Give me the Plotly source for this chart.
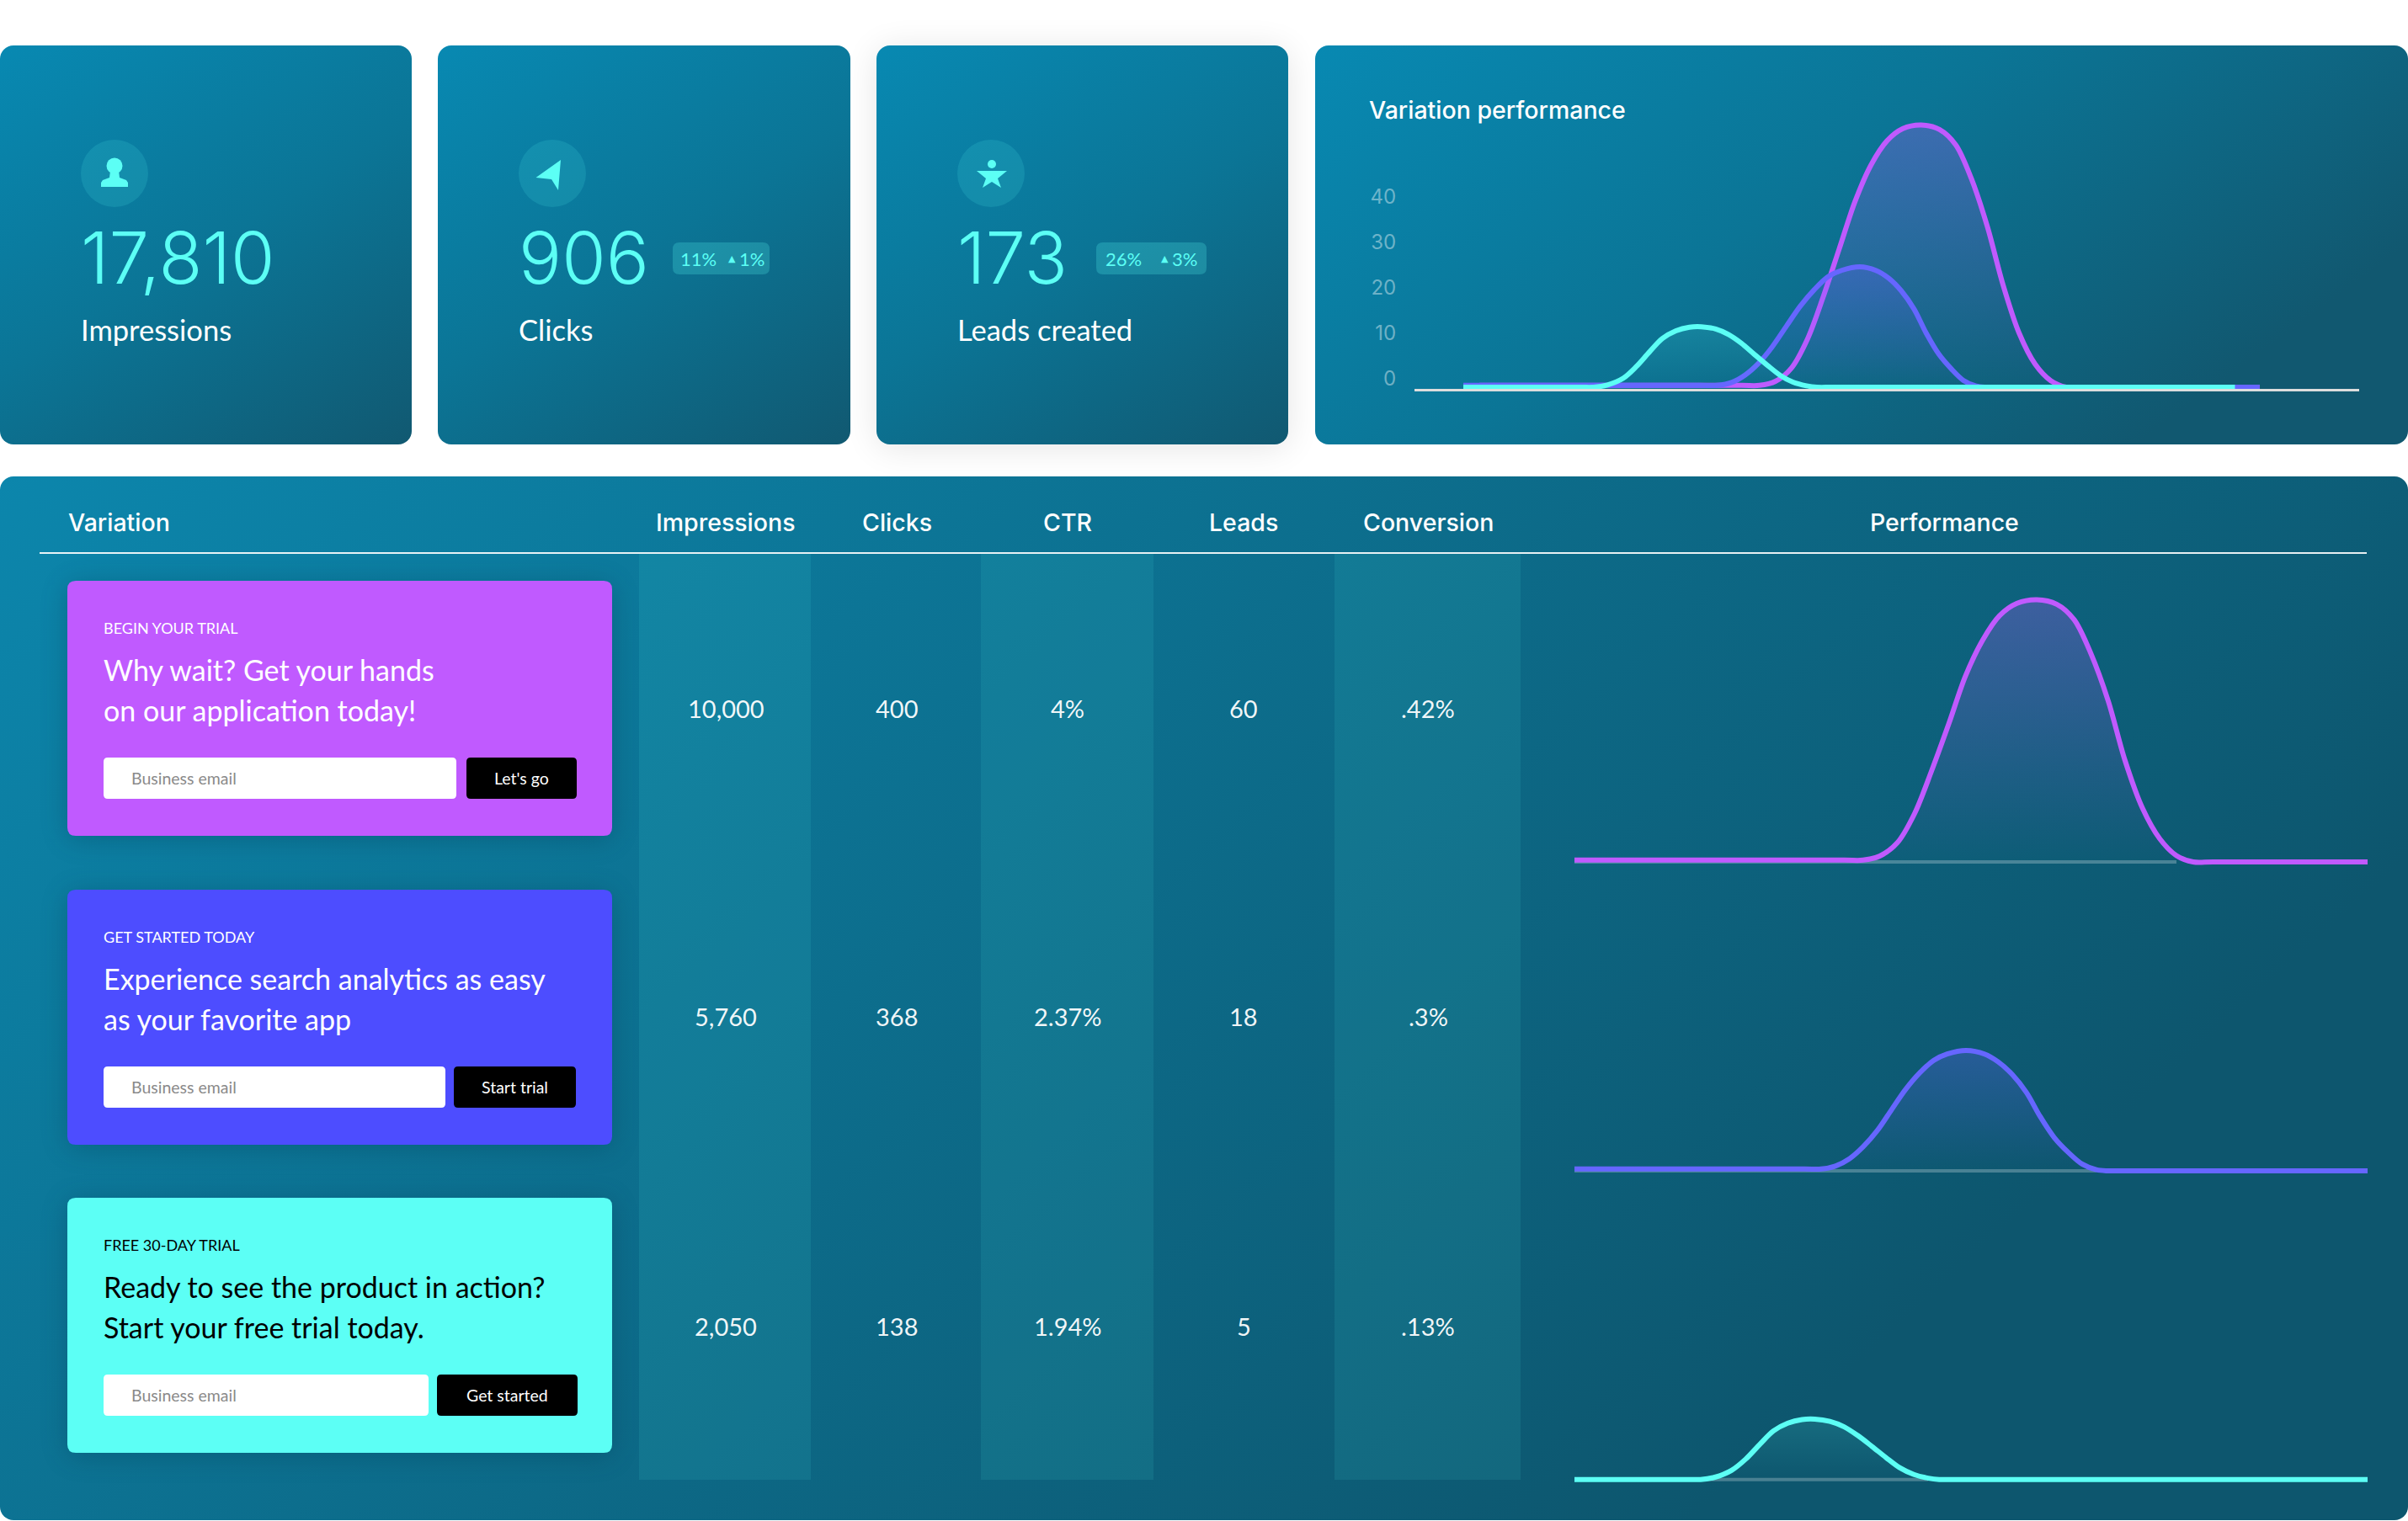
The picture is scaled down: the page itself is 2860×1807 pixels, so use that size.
import base64
import plotly.graph_objects as go

W, H = 2860, 1807

# ---------- data ----------
KPI_LABELS = ["Impressions", "Clicks", "Leads created"]
KPI_VALUES = ["17,810", "906", "173"]
KPI_SHARE = [None, "11%", "26%"]
KPI_DELTA = [None, "1%", "3%"]

TABLE_HEADERS = ["Variation", "Impressions", "Clicks", "CTR", "Leads", "Conversion", "Performance"]
IMPRESSIONS = ["10,000", "5,760", "2,050"]
CLICKS = ["400", "368", "138"]
CTR = ["4%", "2.37%", "1.94%"]
LEADS = ["60", "18", "5"]
CONVERSION = [".42%", ".3%", ".13%"]

KICKERS = ["BEGIN YOUR TRIAL", "GET STARTED TODAY", "FREE 30-DAY TRIAL"]
TITLES_1 = ["Why wait? Get your hands", "Experience search analytics as easy", "Ready to see the product in action?"]
TITLES_2 = ["on our application today!", "as your favorite app", "Start your free trial today."]
BUTTONS = ["Let's go", "Start trial", "Get started"]

Y_TICKS = [0, 10, 20, 30, 40]

PURPLE_VALUES = [0.4, 0.4, 0.4, 1.3, 4.2, 10.7, 19.9, 30.4, 40.9, 48.9, 54.2, 56.9, 57.7, 56.7, 53.3, 45.9, 35.4, 22.4, 11.9, 5.1, 1.4, 0, 0, 0]
PURPLE_ROW_X = [0, 34, 36.4, 38.5, 40.7, 42.9, 45, 47.2, 49.3, 51.5, 53.6, 55.8, 58.3, 60.8, 63, 65.1, 67.3, 69.4, 71.6, 73.8, 75.9, 78, 80.5, 100]
PURPLE_TOP_X = [2, 34.9, 37.2, 39.2, 41.2, 43.25, 45.2, 47.2, 49.2, 51.2, 53.2, 55.2, 57.5, 59.8, 61.85, 63.8, 65.8, 67.8, 69.8, 71.8, 73.8, 75.7, 78.2, 100]

BLUE_VALUES = [0.4, 0.4, 0.4, 1.05, 2.7, 5.3, 8.9, 13.5, 17.8, 21.5, 24.3, 25.7, 26.5, 25.7, 24, 21.2, 17.2, 12, 7.3, 4, 1.5, 0.25, 0, 0, 0]
BLUE_ROW_X = [0, 29, 31.1, 32.9, 34.7, 36.4, 38.2, 40, 41.7, 43.5, 45.3, 47, 49.4, 51.7, 53.4, 55.2, 57, 58.7, 60.5, 62.3, 64, 65.8, 67.2, 69.5, 100]
BLUE_TOP_X = [0, 29.7, 31.9, 33.7, 35.4, 37.1, 38.8, 40.6, 42.3, 44.1, 45.8, 47.5, 49.8, 51.8, 53.4, 55, 56.6, 58.1, 59.7, 61.3, 62.8, 64.4, 65.6, 67.7, 100]

CYAN_VALUES = [0, 0, 0, 0.5, 2, 4.5, 7.8, 10.7, 12.4, 13.2, 13.3, 12.8, 11.6, 9.7, 7.3, 4.8, 2.6, 1.1, 0.3, 0, 0, 0]
CYAN_ROW_X = [0, 14, 15.9, 17.7, 19.8, 21.6, 23.4, 25.1, 26.9, 28.7, 30.3, 32.2, 34, 35.7, 37.5, 39.3, 41, 42.8, 44.6, 46, 48, 100]
CYAN_TOP_X = [0, 14.5, 16.4, 18.1, 20.1, 21.7, 23.4, 25, 26.7, 28.4, 29.9, 31.7, 33.3, 34.9, 36.5, 38.2, 39.8, 41.4, 43.1, 44.4, 46.5, 96.9]

# ---------- palette / fonts ----------
CYAN = "#5CFFF5"
PURPLE = "#C05AFF"
BLUE_PANEL = "#4D4DFF"
BLUE_LINE = "#6666FF"
SANS = "Lato"
INTER = "Inter"


def fx(x):
    return x / W


def fy(y):
    return 1 - y / H


# ---------- background cards (gradients and soft shadows) ----------
def rect(x, y, w, h, r, fill, extra=""):
    return f'<rect x="{x}" y="{y}" width="{w}" height="{h}" rx="{r}" ry="{r}" fill="{fill}" {extra}/>'


svg = [f'<svg xmlns="http://www.w3.org/2000/svg" width="{W}" height="{H}" viewBox="0 0 {W} {H}">',
       '<defs>',
       '<linearGradient id="c" x1="0" y1="0" x2="0.75" y2="1.18">'
       '<stop offset="0" stop-color="#0889B2"/><stop offset="0.5" stop-color="#0B7596"/><stop offset="1" stop-color="#115870"/></linearGradient>',
       '<linearGradient id="w" x1="0" y1="0" x2="1" y2="0.5">'
       '<stop offset="0" stop-color="#0889B2"/><stop offset="0.5" stop-color="#0B7596"/><stop offset="1" stop-color="#115870"/></linearGradient>',
       '<linearGradient id="t" x1="0" y1="0" x2="0.96" y2="0.45">'
       '<stop offset="0" stop-color="#0C86AC"/><stop offset="1" stop-color="#0D566E"/></linearGradient>',
       '<filter id="b1" x="-30%" y="-30%" width="160%" height="160%"><feGaussianBlur stdDeviation="20"/></filter>',
       '<filter id="b2" x="-30%" y="-30%" width="160%" height="160%"><feGaussianBlur stdDeviation="16"/></filter>',
       '</defs>']
svg.append(rect(1041, 58, 489, 474, 16, "#000", 'opacity="0.10" filter="url(#b1)"'))
for x, w in [(0, 489), (520, 490), (1041, 489)]:
    svg.append(rect(x, 54, w, 474, 16, "url(#c)"))
svg.append(rect(1562, 54, 1298, 474, 16, "url(#w)"))
svg.append(rect(0, 566, W, 1240, 16, "url(#t)"))
for top in [690, 1057, 1423]:
    svg.append(rect(80, top + 4, 647, 303, 10, "#03364C", 'opacity="0.30" filter="url(#b2)"'))
svg.append('</svg>')
bg_uri = "data:image/svg+xml;base64," + base64.b64encode("".join(svg).encode()).decode()

shapes = []


def rrect(x0, y0, x1, y1, r, fill):
    d = (f"M{x0 + r},{y0} L{x1 - r},{y0} Q{x1},{y0} {x1},{y0 + r} L{x1},{y1 - r} Q{x1},{y1} {x1 - r},{y1} "
         f"L{x0 + r},{y1} Q{x0},{y1} {x0},{y1 - r} L{x0},{y0 + r} Q{x0},{y0} {x0 + r},{y0} Z")
    shapes.append(dict(type="path", xref="x", yref="y", path=d, fillcolor=fill, line=dict(width=0), layer="below"))


def poly(points, fill):
    d = "M" + " L".join(f"{a},{b}" for a, b in points) + " Z"
    shapes.append(dict(type="path", xref="x", yref="y", path=d, fillcolor=fill, line=dict(width=0), layer="below"))


def circle(cx, cy, r, fill):
    shapes.append(dict(type="circle", xref="x", yref="y", x0=cx - r, x1=cx + r, y0=cy - r, y1=cy + r,
                       fillcolor=fill, line=dict(width=0), layer="below"))


annotations = []


def note(x, y, text, size, color, family=SANS, weight=400, anchor="left"):
    annotations.append(dict(x=x, y=y, xref="x", yref="y", text=text, showarrow=False, xanchor=anchor,
                            yanchor="middle", borderpad=0, font=dict(size=size, color=color, family=family, weight=weight)))


# ---------- KPI cards ----------
CARD_X = [96, 616, 1137]
for i in range(3):
    x = CARD_X[i]
    circle(x + 40, 206, 40, "rgba(92,255,245,0.13)")
    note(x - 1, 306, KPI_VALUES[i], 85, CYAN, INTER, 300)
    note(x - 1, 391, KPI_LABELS[i], 34.5, "#FFFFFF", SANS, 400)

# icons
circle(136, 197, 9.5, CYAN)
poly([(131, 203), (141, 203), (142, 211), (150, 214), (152, 217), (152, 222), (120, 222), (120, 217), (122, 214), (130, 211)], CYAN)
poly([(666, 190), (636.5, 211), (655, 213), (663, 226)], CYAN)
circle(1178, 195, 5, CYAN)
poly([(1160, 203), (1196, 203), (1185, 212), (1189, 223), (1178, 216), (1167, 223), (1171, 212)], CYAN)

# badges
for x0, x1, share, delta, sx, tx, dx in [
    (799, 914, KPI_SHARE[1], KPI_DELTA[1], 807, 869, 877),
    (1302, 1433, KPI_SHARE[2], KPI_DELTA[2], 1312, 1383, 1391),
]:
    rrect(x0, 288, x1, 326, 8, "rgba(92,255,245,0.22)")
    note(sx, 307, share, 22, CYAN, SANS, 400)
    note(tx, 307, "▲", 11, CYAN, "DejaVu Sans", 400, "center")
    note(dx, 307, delta, 22, CYAN, SANS, 400)

note(1625, 130, "Variation performance", 28.5, "#FFFFFF", INTER, 500)

# ---------- table ----------
for x0, x1 in [(759, 963), (1165, 1370), (1585, 1806)]:
    shapes.append(dict(type="rect", xref="x", yref="y", x0=x0, x1=x1, y0=658, y1=1758,
                       fillcolor="rgba(92,255,245,0.09)", line=dict(width=0), layer="below"))
shapes.append(dict(type="line", xref="x", yref="y", x0=47, x1=2811, y0=657, y1=657,
                   line=dict(color="rgba(255,255,255,0.9)", width=2), layer="below"))

HEADER_X = [80, 862, 1065, 1268, 1477, 1696, 2309]
for i, (hx, label) in enumerate(zip(HEADER_X, TABLE_HEADERS)):
    note(hx, 620, label, 28.5, "#FFFFFF", INTER, 500, "left" if i == 0 else "center")

ROW_Y = [841, 1207, 1575]
for col_x, column in zip(HEADER_X[1:6], [IMPRESSIONS, CLICKS, CTR, LEADS, CONVERSION]):
    for ry, value in zip(ROW_Y, column):
        note(col_x, ry, value, 29, "rgba(255,255,255,0.95)", SANS, 400, "center")

# ---------- variation panels ----------
PANEL_TOP = [690, 1057, 1423]
PANEL_FILL = [PURPLE, BLUE_PANEL, CYAN]
PANEL_INK = ["#FFFFFF", "#FFFFFF", "#000000"]
INPUT_RIGHT = [542, 529, 509]
BUTTON_LEFT = [554, 539, 519]
BUTTON_RIGHT = [685, 684, 686]
for i in range(3):
    t = PANEL_TOP[i]
    rrect(80, t, 727, t + 303, 10, PANEL_FILL[i])
    rrect(123, t + 210, INPUT_RIGHT[i], t + 259, 5, "#FFFFFF")
    rrect(BUTTON_LEFT[i], t + 210, BUTTON_RIGHT[i], t + 259, 5, "#000000")
    note(122, t + 56, KICKERS[i], 18, PANEL_INK[i])
    note(122, t + 105, TITLES_1[i], 34, PANEL_INK[i])
    note(122, t + 153, TITLES_2[i], 34, PANEL_INK[i])
    note(155, t + 234, "Business email", 19.5, "#8A8A8A")
    note((BUTTON_LEFT[i] + BUTTON_RIGHT[i]) / 2, t + 234, BUTTONS[i], 19.5, "#FFFFFF", SANS, 400, "center")

# ---------- charts ----------
fig = go.Figure()


def area_line(x, y, color, rgb, top_alpha, xa, ya):
    fig.add_trace(go.Scatter(
        x=x, y=y, xaxis=xa, yaxis=ya, mode="lines", fill="tozeroy",
        line=dict(color=color, width=6, shape="spline", smoothing=0.9),
        fillgradient=dict(type="vertical", colorscale=[[0, f"rgba({rgb},0)"], [1, f"rgba({rgb},{top_alpha})"]]),
        hoverinfo="skip"))


SERIES = [
    (PURPLE_VALUES, PURPLE_TOP_X, PURPLE_ROW_X, PURPLE, "192,90,255", 0.27),
    (BLUE_VALUES, BLUE_TOP_X, BLUE_ROW_X, BLUE_LINE, "110,100,255", 0.27),
    (CYAN_VALUES, CYAN_TOP_X, CYAN_ROW_X, CYAN, "92,255,245", 0.13),
]

for vals, top_x, row_x, color, rgb, alpha in SERIES:
    area_line(top_x, vals, color, rgb, alpha, "x2", "y2")

# invisible carrier so the tick axis of the top chart is drawn
fig.add_trace(go.Scatter(x=[0, 0], y=[Y_TICKS[0], Y_TICKS[-1]], xaxis="x3", yaxis="y3", mode="lines",
                         line=dict(width=0), opacity=0, hoverinfo="skip"))

for k, (vals, top_x, row_x, color, rgb, alpha) in enumerate(SERIES):
    xa, ya = f"x{4 + k}", f"y{4 + k}"
    fall = max(x for x, v in zip(row_x, vals) if v > 0)
    fig.add_trace(go.Scatter(x=[0, fall], y=[0, 0], xaxis=xa, yaxis=ya, mode="lines",
                             line=dict(color="rgba(255,255,255,0.25)", width=4), hoverinfo="skip"))
    area_line(row_x, vals, color, rgb, alpha, xa, ya)

hidden = dict(visible=False, showgrid=False, zeroline=False, automargin=False)
layout = dict(
    template="none",
    width=W, height=H, autosize=False, margin=dict(l=0, r=0, t=0, b=0, pad=0),
    paper_bgcolor="#FFFFFF", plot_bgcolor="rgba(0,0,0,0)", showlegend=False, hovermode=False,
    xaxis=dict(range=[0, W], domain=[0, 1], **hidden),
    yaxis=dict(range=[H, 0], domain=[0, 1], **hidden),
    # top chart: line of the x axis is the pale baseline
    xaxis2=dict(domain=[fx(1680), fx(2802)], range=[-6.13, 112.5], anchor="y2", showgrid=False, zeroline=False,
                showline=True, linecolor="#DDDDDD", linewidth=3, ticks="", showticklabels=False, automargin=False),
    yaxis2=dict(domain=[fy(462), fy(134)], range=[-0.37, 60.38], anchor="x2", automargin=False,
                visible=False, showgrid=False, zeroline=False),
    xaxis3=dict(domain=[fx(1670), fx(1700)], range=[0, 1], anchor="y3", **hidden),
    yaxis3=dict(domain=[fy(450), fy(234)], range=[0, 40], anchor="x3", tickvals=Y_TICKS, showgrid=False, zeroline=False,
                showline=False, ticks="outside", ticklen=6, tickcolor="rgba(0,0,0,0)", automargin=False,
                tickfont=dict(size=24, color="rgba(255,255,255,0.42)", family=INTER)),
    annotations=annotations, shapes=shapes,
    images=[dict(source=bg_uri, xref="paper", yref="paper", x=0, y=1, sizex=1, sizey=1,
                 xanchor="left", yanchor="top", sizing="stretch", layer="below")],
)
BASELINES = [1024, 1391, 1757.7]
for k, base in enumerate(BASELINES):
    layout[f"xaxis{4 + k}"] = dict(domain=[fx(1870), fx(2812)], range=[0, 100], anchor=f"y{4 + k}", **hidden)
    layout[f"yaxis{4 + k}"] = dict(domain=[fy(base + 10.8), fy(base - 324)], range=[-2, 60], anchor=f"x{4 + k}", **hidden)
fig.update_layout(**layout)

fig.write_html("out.html", config=dict(displayModeBar=False),
               post_script="document.body.style.margin='0';document.body.style.overflow='hidden';")
